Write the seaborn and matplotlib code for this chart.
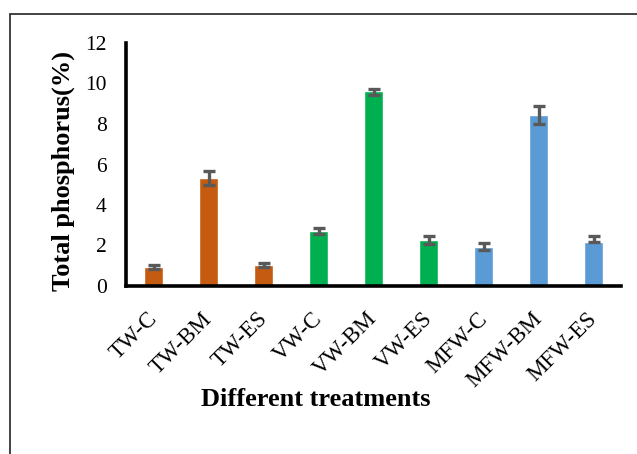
import matplotlib
matplotlib.use("Agg")
import matplotlib.pyplot as plt
import matplotlib.transforms as mtransforms
from matplotlib.patches import Rectangle
import seaborn as sns
import pandas as pd

categories = ["TW-C", "TW-BM", "TW-ES", "VW-C", "VW-BM", "VW-ES", "MFW-C", "MFW-BM", "MFW-ES"]
values = [0.93, 5.33, 1.04, 2.72, 9.63, 2.27, 1.93, 8.46, 2.17]
err_low = [0.10, 0.33, 0.10, 0.14, 0.18, 0.18, 0.17, 0.45, 0.02]
err_high = [0.10, 0.36, 0.10, 0.14, 0.12, 0.20, 0.18, 0.42, 0.30]
bar_colors = ["#C55A11", "#C55A11", "#C55A11", "#00B050", "#00B050", "#00B050",
              "#5B9BD5", "#5B9BD5", "#5B9BD5"]
y_ticks = [0, 2, 4, 6, 8, 10, 12]

df = pd.DataFrame({"treatment": categories, "tp": values})

sns.set_style("white")
plt.rcParams["font.family"] = ["Liberation Serif", "DejaVu Serif"]

W, H = 637, 454
fig = plt.figure(figsize=(W / 100, H / 100), dpi=100)
ax = fig.add_axes([126 / W, 1 - 286 / H, 495 / W, 243 / H])

sns.barplot(data=df, x="treatment", y="tp", hue="treatment",
            palette=bar_colors, legend=False, width=0.33, ax=ax,
            saturation=1, errorbar=None)
ax.errorbar(range(len(categories)), values, yerr=[err_low, err_high], fmt="none",
            ecolor="#595959", elinewidth=2.4, capsize=4.3, capthick=2.4, zorder=5)

ax.set_xlim(-0.5, len(categories) - 0.5)
ax.set_ylim(0, 12)
ax.set_yticks(y_ticks)
ax.set_yticklabels([str(t) for t in y_ticks])

for s in ["top", "right"]:
    ax.spines[s].set_visible(False)
for s in ["left", "bottom"]:
    ax.spines[s].set_linewidth(2.6)
    ax.spines[s].set_color("black")

ax.tick_params(axis="both", length=0, colors="black")
ax.tick_params(axis="y", pad=14, labelsize=15.5)
ax.tick_params(axis="x", pad=16, labelsize=16.5)

offset = mtransforms.ScaledTranslation(-7 / 100, 0, fig.dpi_scale_trans)
for lab in ax.get_xticklabels():
    lab.set_rotation(45)
    lab.set_ha("right")
    lab.set_va("top")
    lab.set_rotation_mode("anchor")
    lab.set_transform(lab.get_transform() + offset)

ax.set_xlabel("Different treatments", fontsize=19, fontweight="bold", color="black")
ax.set_ylabel("Total phosphorus(%)", fontsize=19, fontweight="bold", color="black")
ax.xaxis.set_label_coords(0.384, -0.42)
ax.yaxis.set_label_coords(-0.103, 0.473)

fig.patches.append(Rectangle((10 / W, -0.1), 1.2, (H - 14) / H + 0.1,
                             transform=fig.transFigure, fill=False,
                             edgecolor="#222222", linewidth=1.2))

fig.savefig("out.png", dpi=100)
